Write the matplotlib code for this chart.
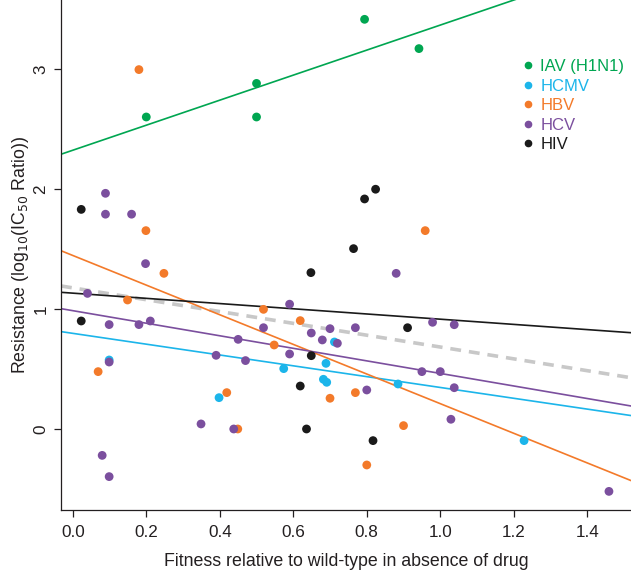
import numpy as np
import matplotlib
matplotlib.use("Agg")
import matplotlib.pyplot as plt
from matplotlib.lines import Line2D

plt.rcParams["font.family"] = ["Liberation Sans", "DejaVu Sans"]

# virus groups, colours and read-off points (fitness, log10 IC50 ratio)
viruses = ["IAV (H1N1)", "HCMV", "HBV", "HCV", "HIV"]
colors = ["#00a651", "#1cb5ea", "#f37a2a", "#7b4f9e", "#1a1a1a"]

iav_x = [0.20, 0.50, 0.50, 0.794, 0.942]
iav_y = [2.60, 2.88, 2.60, 3.414, 3.17]

hcmv_x = [0.099, 0.398, 0.574, 0.689, 0.682, 0.691, 0.712, 0.885, 1.228]
hcmv_y = [0.575, 0.261, 0.503, 0.547, 0.414, 0.389, 0.725, 0.375, -0.097]

hbv_x = [0.18, 0.199, 0.248, 0.959, 0.069, 0.149, 0.519, 0.619, 0.548, 0.419,
         0.449, 0.70, 0.769, 0.90, 0.80]
hbv_y = [2.995, 1.653, 1.297, 1.653, 0.478, 1.075, 0.997, 0.903, 0.70, 0.303,
         0.0, 0.256, 0.303, 0.028, -0.30]

hcv_x = [0.089, 0.089, 0.16, 0.198, 0.88, 0.04, 0.099, 0.18, 0.211, 0.099,
         0.08, 0.099, 0.349, 0.438, 0.45, 0.47, 0.39, 0.519, 0.59, 0.59,
         0.649, 0.679, 0.70, 0.72, 0.769, 0.80, 0.95, 1.0, 0.979, 1.038,
         1.038, 1.029, 1.459]
hcv_y = [1.964, 1.79, 1.79, 1.378, 1.297, 1.13, 0.87, 0.87, 0.90, 0.558,
         -0.22, -0.397, 0.042, 0.0, 0.747, 0.57, 0.614, 0.844, 1.04, 0.625,
         0.80, 0.742, 0.836, 0.714, 0.844, 0.325, 0.478, 0.478, 0.889, 0.869,
         0.344, 0.081, -0.52]

hiv_x = [0.023, 0.648, 0.824, 0.794, 0.764, 0.023, 0.619, 0.636, 0.649, 0.911, 0.817]
hiv_y = [1.83, 1.303, 1.998, 1.917, 1.503, 0.90, 0.358, 0.0, 0.611, 0.844, -0.097]

# fitted lines (intercept, slope) per virus, then pooled fit
fit_intercept = [2.323, 0.797, 1.446, 0.986, 1.132]
fit_slope = [1.043, -0.451, -1.235, -0.523, -0.217]
pooled_fit = (1.176, -0.493)

xs_all = [iav_x, hcmv_x, hbv_x, hcv_x, hiv_x]
ys_all = [iav_y, hcmv_y, hbv_y, hcv_y, hiv_y]

fig = plt.figure(figsize=(6.31, 5.70), dpi=100)
ax = fig.add_axes([0.0967, 0.1053, 0.9033, 0.8947])
xlim = (-0.032, 1.519)
ylim = (-0.675, 3.575)

xx = np.array(xlim)
ax.plot(xx, pooled_fit[0] + pooled_fit[1] * xx, "--", color="#c8c8c8", lw=2.6,
        dashes=(3, 2.2), zorder=1)
for b0, b1, c in zip(fit_intercept, fit_slope, colors):
    ax.plot(xx, b0 + b1 * xx, "-", color=c, lw=1.2, zorder=2)

for x, y, c in zip(xs_all, ys_all, colors):
    ax.scatter(x, y, s=40, color=c, edgecolors="none", zorder=3)

handles = [Line2D([], [], marker="o", ls="none", color=c, markersize=4.5) for c in colors]
leg = ax.legend(handles, viruses, loc="upper left", bbox_to_anchor=(0.79, 0.9),
                frameon=False, fontsize=12, handletextpad=0.25, labelspacing=0.27,
                handlelength=1.0, borderpad=0)
for t, c in zip(leg.get_texts(), colors):
    t.set_color(c)

ax.set_xlim(*xlim)
ax.set_ylim(*ylim)
ax.set_xticks([0.0, 0.2, 0.4, 0.6, 0.8, 1.0, 1.2, 1.4])
ax.set_xticklabels(["0.0", "0.2", "0.4", "0.6", "0.8", "1.0", "1.2", "1.4"])
ax.set_yticks([0, 1, 2, 3])
for lab in ax.get_yticklabels():
    lab.set_rotation(90)
    lab.set_va("center")
ax.tick_params(labelsize=12.3, colors="#231f20", length=5, width=0.9, pad=6)
ax.tick_params(axis="y", pad=4)
for s in ["top", "right"]:
    ax.spines[s].set_visible(False)
for s in ["left", "bottom"]:
    ax.spines[s].set_color("#231f20")
    ax.spines[s].set_linewidth(0.9)

ax.set_xlabel("Fitness relative to wild-type in absence of drug", fontsize=12.8,
              color="#231f20", labelpad=9)
ax.set_ylabel("Resistance (log$_{10}$(IC$_{50}$ Ratio))", fontsize=12.8,
              color="#231f20", labelpad=2)

fig.savefig("out.png", dpi=100)
